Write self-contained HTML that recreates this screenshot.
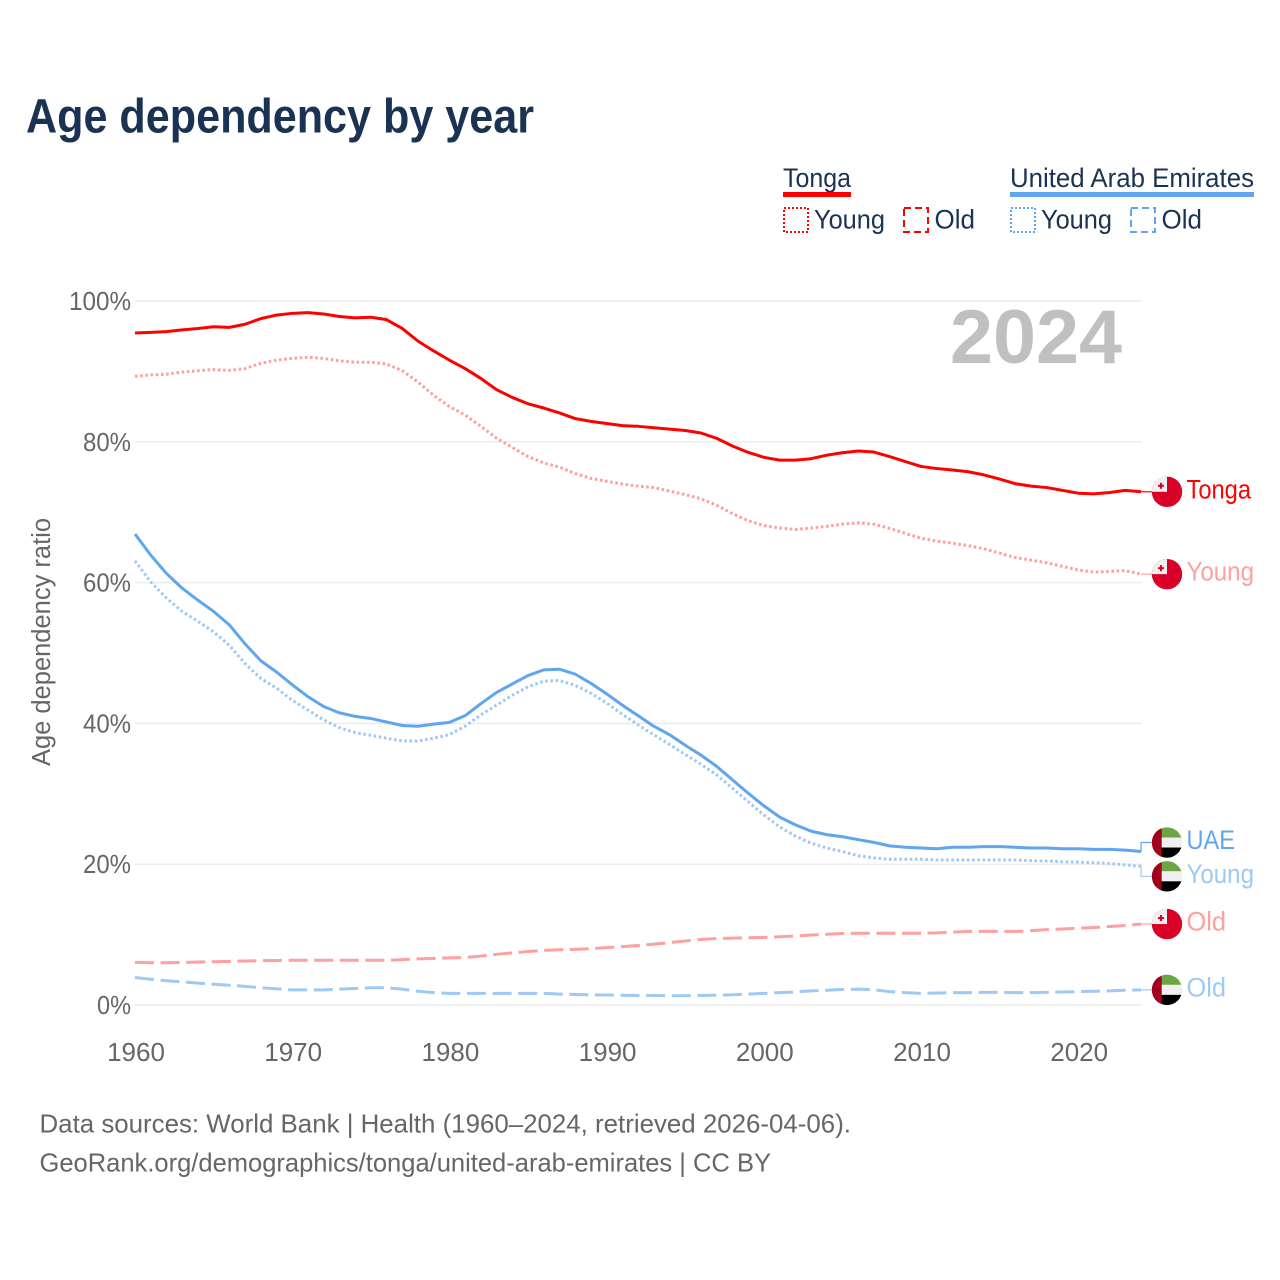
<!DOCTYPE html>
<html lang="en">
<head>
<meta charset="utf-8">
<title>Age dependency by year</title>
<style>
html,body{margin:0;padding:0;background:#fff;}
svg{display:block;font-family:"Liberation Sans",sans-serif;}
</style>
</head>
<body>
<svg id="chart" xmlns="http://www.w3.org/2000/svg" width="1280" height="1280" viewBox="0 0 1280 1280">
  <rect x="0" y="0" width="1280" height="1280" fill="#ffffff"/>
  <text x="26" y="132.5" font-size="48" font-weight="700" fill="#1a3353" textLength="508" lengthAdjust="spacingAndGlyphs">Age dependency by year</text>

  <g font-size="26.5" fill="#1a3353">
    <text x="783" y="187" textLength="68" lengthAdjust="spacingAndGlyphs">Tonga</text>
    <rect x="783" y="192" width="68" height="5" fill="#ff0000"/>
    <rect x="784" y="208" width="24" height="24" fill="none" stroke="#ff0000" stroke-width="2" stroke-dasharray="2 2"/>
    <text x="814" y="228.5" textLength="71" lengthAdjust="spacingAndGlyphs">Young</text>
    <rect x="904" y="208" width="24" height="24" fill="none" stroke="#ff0000" stroke-width="2" stroke-dasharray="7 4"/>
    <text x="934.5" y="228.5" textLength="40.5" lengthAdjust="spacingAndGlyphs">Old</text>
    <text x="1010" y="187" textLength="244" lengthAdjust="spacingAndGlyphs">United Arab Emirates</text>
    <rect x="1010" y="192" width="244" height="5" fill="#60a5ee"/>
    <rect x="1011" y="208" width="24" height="24" fill="none" stroke="#60a5ee" stroke-width="2" stroke-dasharray="2 2"/>
    <text x="1041" y="228.5" textLength="71" lengthAdjust="spacingAndGlyphs">Young</text>
    <rect x="1131" y="208" width="24" height="24" fill="none" stroke="#60a5ee" stroke-width="2" stroke-dasharray="7 4"/>
    <text x="1161.5" y="228.5" textLength="40.5" lengthAdjust="spacingAndGlyphs">Old</text>
  </g>

  <g id="grid"></g>
  <g id="yticks"></g>
  <g id="xticks"></g>
  <text transform="translate(50,642) rotate(-90)" text-anchor="middle" font-size="25.5" fill="#666666" textLength="248" lengthAdjust="spacingAndGlyphs">Age dependency ratio</text>
  <text x="950" y="363" font-size="76" font-weight="700" fill="#c0c0c0" textLength="172" lengthAdjust="spacingAndGlyphs">2024</text>
  <g id="series"></g>
  <g id="labels"></g>

  <text x="39.5" y="1132.5" font-size="26" fill="#666666" textLength="811.5" lengthAdjust="spacingAndGlyphs">Data sources: World Bank | Health (1960–2024, retrieved 2026-04-06).</text>
  <text x="39.5" y="1171.5" font-size="26" fill="#666666" textLength="731.5" lengthAdjust="spacingAndGlyphs">GeoRank.org/demographics/tonga/united-arab-emirates | CC BY</text>
</svg>
<script>
const startYear = 1960;
const xTickYears = [1960, 1970, 1980, 1990, 2000, 2010, 2020];
const yTickValues = [0, 20, 40, 60, 80, 100];

const tongaTotal = [95.45,95.55,95.65,95.9,96.1,96.35,96.25,96.7,97.5,98.0,98.25,98.35,98.15,97.8,97.6,97.7,97.35,96.1,94.3,92.9,91.6,90.4,89.0,87.4,86.3,85.4,84.8,84.1,83.3,82.9,82.6,82.3,82.2,82.0,81.8,81.6,81.25,80.5,79.4,78.5,77.8,77.4,77.4,77.6,78.1,78.45,78.7,78.55,77.9,77.2,76.5,76.2,76.0,75.75,75.3,74.7,74.05,73.7,73.5,73.1,72.7,72.6,72.8,73.1,72.9];
const tongaYoung = [89.3,89.5,89.6,89.9,90.1,90.25,90.15,90.4,91.15,91.6,91.85,92.0,91.85,91.5,91.3,91.3,91.05,90.1,88.5,86.6,85.0,83.8,82.2,80.5,79.2,77.9,77.0,76.4,75.5,74.8,74.4,74.0,73.7,73.5,73.0,72.5,71.9,71.0,69.8,68.8,68.1,67.75,67.55,67.75,68.0,68.3,68.5,68.3,67.7,67.0,66.3,65.9,65.6,65.25,64.8,64.2,63.55,63.2,62.8,62.3,61.8,61.5,61.6,61.7,61.2];
const tongaOld = [6.06,6.0,6.0,6.05,6.1,6.15,6.2,6.25,6.3,6.33,6.35,6.35,6.35,6.35,6.35,6.35,6.35,6.45,6.55,6.62,6.7,6.75,6.95,7.2,7.4,7.6,7.75,7.85,7.9,8.0,8.15,8.3,8.45,8.65,8.85,9.1,9.3,9.45,9.5,9.55,9.6,9.7,9.8,9.95,10.05,10.15,10.2,10.2,10.2,10.2,10.2,10.25,10.35,10.45,10.45,10.45,10.45,10.55,10.7,10.8,10.9,11.0,11.15,11.3,11.5];
const uaeTotal = [66.9,63.9,61.3,59.2,57.5,55.9,54.0,51.3,48.9,47.3,45.5,43.8,42.4,41.5,41.0,40.7,40.2,39.7,39.6,39.9,40.15,41.1,42.8,44.4,45.6,46.8,47.6,47.7,47.0,45.7,44.2,42.6,41.1,39.6,38.4,36.9,35.5,33.9,32.0,30.1,28.3,26.7,25.6,24.7,24.2,23.9,23.5,23.1,22.6,22.4,22.3,22.2,22.4,22.4,22.5,22.5,22.4,22.3,22.3,22.2,22.2,22.1,22.1,22.0,21.8];
const uaeYoung = [63.1,60.1,57.8,55.9,54.5,53.0,51.1,48.5,46.4,45.0,43.3,41.9,40.5,39.4,38.7,38.3,37.9,37.5,37.5,37.9,38.4,39.6,41.2,42.6,44.0,45.2,46.0,46.1,45.4,44.3,42.9,41.3,39.8,38.4,37.0,35.6,34.2,32.7,30.8,28.9,27.0,25.3,24.0,23.0,22.3,21.8,21.2,20.9,20.7,20.7,20.7,20.6,20.6,20.6,20.6,20.6,20.6,20.5,20.45,20.35,20.3,20.2,20.1,19.9,19.7];
const uaeOld = [3.9,3.65,3.45,3.3,3.1,2.95,2.8,2.65,2.45,2.3,2.15,2.15,2.15,2.25,2.35,2.45,2.45,2.25,1.95,1.75,1.65,1.65,1.65,1.65,1.65,1.65,1.65,1.55,1.5,1.45,1.42,1.38,1.35,1.35,1.32,1.32,1.35,1.4,1.45,1.55,1.65,1.75,1.85,2.0,2.1,2.2,2.25,2.15,1.9,1.75,1.65,1.7,1.75,1.75,1.8,1.8,1.75,1.75,1.8,1.85,1.9,1.95,2.0,2.1,2.15];

const NS = 'http://www.w3.org/2000/svg';
function xScale(year) { return 135 + (year - 1960) * 15.72; }
function yScale(value) { return 1005 - value * 7.04; }
function make(tag, parent, attrs, text) {
  const el = document.createElementNS(NS, tag);
  for (const k in attrs) el.setAttribute(k, attrs[k]);
  if (text !== undefined) el.textContent = text;
  parent.appendChild(el);
  return el;
}

const grid = document.getElementById('grid');
const yticks = document.getElementById('yticks');
yTickValues.forEach(function (v) {
  const line = make('line', grid, {x1: 135, x2: 1141.7, y1: yScale(v), y2: yScale(v), stroke: '#ececec', 'stroke-width': 1.5});
  
  
  const label = v + '%';
  const t = make('text', yticks, {x: 131, y: yScale(v) + 9, 'text-anchor': 'end', 'font-size': 26, fill: '#666666', textLength: (label.length - 1) * 14 + 20, lengthAdjust: 'spacingAndGlyphs'}, label);
  
  
});

const xticks = document.getElementById('xticks');
xTickYears.forEach(function (yr) {
  const t = make('text', xticks, {x: xScale(yr) + 1, y: 1061, 'text-anchor': 'middle', 'font-size': 26, fill: '#666666'}, String(yr));
  
  
});

function drawLine(values, color, dash, name) {
  const d = values.map(function (v, i) {
    return (i ? 'L' : 'M') + xScale(startYear + i).toFixed(2) + ' ' + yScale(v).toFixed(2);
  }).join(' ');
  const attrs = {d: d, fill: 'none', stroke: color, 'stroke-width': 3, 'stroke-linejoin': 'round'};
  if (dash) attrs['stroke-dasharray'] = dash;
  const p = make('path', document.getElementById('series'), attrs);
  
  
}

const RED = '#ff0000', PALE_RED = '#ff9f9f', BLUE = '#60a5ee', PALE_BLUE = '#9fc9f5';
const DOT = '2.6 2.6', DASH = '19 6.6';
drawLine(tongaOld, PALE_RED, DASH, 'line-tonga-old');
drawLine(uaeOld, PALE_BLUE, DASH, 'line-uae-old');
drawLine(tongaYoung, PALE_RED, DOT, 'line-tonga-young');
drawLine(uaeYoung, PALE_BLUE, DOT, 'line-uae-young');
drawLine(tongaTotal, RED, null, 'line-tonga-total');
drawLine(uaeTotal, BLUE, null, 'line-uae-total');

let clipCount = 0;
function endLabel(values, text, labelOffset, country, color, textWidth, name) {
  const labels = document.getElementById('labels');
  const lastY = yScale(values[values.length - 1]);
  const endX = xScale(startYear + values.length - 1);
  const cy = lastY + labelOffset;
  const cx = 1167;
  const g = make('g', labels, {});
  
  

  const conn = make('path', g, {d: 'M' + endX + ' ' + lastY + ' V' + cy + ' H' + (cx - 14), fill: 'none', stroke: color, 'stroke-width': 1.2});
  
  

  clipCount += 1;
  const id = 'flag-clip-' + clipCount;
  const cp = make('clipPath', g, {id: id});
  make('circle', cp, {cx: cx, cy: cy, r: 15.2});
  const flag = make('g', g, {'clip-path': 'url(#' + id + ')'});
  
  
  const L = cx - 16, T = cy - 16;
  if (country === 'tonga') {
    make('rect', flag, {x: L, y: T, width: 32, height: 32, fill: '#d80027'});
    make('rect', flag, {x: L, y: T, width: 16, height: 16, fill: '#f0f0f0'});
    make('rect', flag, {x: cx - 9, y: cy - 7, width: 6, height: 2, fill: '#d80027'});
    make('rect', flag, {x: cx - 7, y: cy - 9, width: 2, height: 6, fill: '#d80027'});
  } else {
    make('rect', flag, {x: L, y: T, width: 32, height: 11, fill: '#6da544'});
    make('rect', flag, {x: L, y: cy - 5, width: 32, height: 10, fill: '#f0f0f0'});
    make('rect', flag, {x: L, y: cy + 5, width: 32, height: 11, fill: '#000000'});
    make('rect', flag, {x: L, y: T, width: 10.7, height: 32, fill: '#a2001d'});
  }

  const t = make('text', g, {x: 1186.5, y: cy + 6.5, 'font-size': 26.5, fill: color, textLength: textWidth, lengthAdjust: 'spacingAndGlyphs'}, text);
  
  
}

endLabel(tongaTotal, 'Tonga', 0, 'tonga', RED, 64.5, 'end-label-tonga');
endLabel(tongaYoung, 'Young', 0, 'tonga', PALE_RED, 67.5, 'end-label-tonga-young');
endLabel(uaeTotal, 'UAE', -9, 'uae', BLUE, 48.5, 'end-label-uae');
endLabel(uaeYoung, 'Young', 10, 'uae', PALE_BLUE, 67.5, 'end-label-uae-young');
endLabel(tongaOld, 'Old', 0, 'tonga', PALE_RED, 39.5, 'end-label-tonga-old');
endLabel(uaeOld, 'Old', 0, 'uae', PALE_BLUE, 39.5, 'end-label-uae-old');
</script>
</body>
</html>
